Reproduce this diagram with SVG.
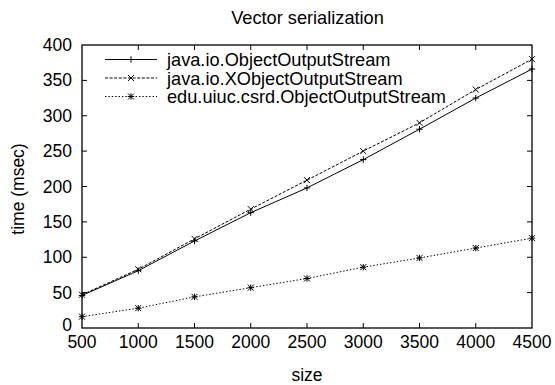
<svg xmlns="http://www.w3.org/2000/svg" xmlns:xlink="http://www.w3.org/1999/xlink" width="555" height="385" viewBox="0 0 555 385">
  <style>
    text { font-family: "Liberation Sans", Arial, sans-serif; font-size: 17.5px; fill: #000; }
    .title { font-size: 18.2px; text-anchor: middle; }
    .key { font-size: 18.2px; }
    .frame { fill: none; stroke: #000; stroke-width: 1.3; }
    .tick { stroke: #000; stroke-width: 1; }
    .ylab { text-anchor: end; }
    .xlab { text-anchor: middle; }
    .s1 { fill: none; stroke: #000; stroke-width: 1; }
    .s2 { fill: none; stroke: #000; stroke-width: 1; stroke-dasharray: 3 1.6; }
    .s3 { fill: none; stroke: #000; stroke-width: 1; stroke-dasharray: 1.4 2; }
    .pt { fill: none; stroke: #000; stroke-width: 1; }
  </style>
  <defs>
    <path id="mk-plus" class="pt" d="M-3.2,0H3.2M0,-3.2V3.2"/>
    <path id="mk-cross" class="pt" d="M-3,-3L3,3M-3,3L3,-3"/>
    <path id="mk-star" class="pt" d="M-3.2,0H3.2M0,-3.2V3.2M-3,-3L3,3M-3,3L3,-3"/>
  </defs>

  <rect width="555" height="385" fill="#fff"/>

  <!-- title -->
  <text x="307.5" y="24" class="title">Vector serialization</text>

  <!-- plot frame and ticks -->
  <g id="axes">
    <rect class="frame" x="82" y="45" width="450" height="283"/>
    <path class="tick" d="M82,292.6h5M82,257.25h5M82,221.9h5M82,186.5h5M82,151.1h5M82,115.75h5M82,80.4h5
      M532,292.6h-5M532,257.25h-5M532,221.9h-5M532,186.5h-5M532,151.1h-5M532,115.75h-5M532,80.4h-5
      M138.25,328v-5M194.5,328v-5M250.75,328v-5M307,328v-5M363.25,328v-5M419.5,328v-5M475.75,328v-5
      M138.25,45v5M194.5,45v5M250.75,45v5M307,45v5M363.25,45v5M419.5,45v5M475.75,45v5"/>
  </g>

  <!-- y tick labels -->
  <g id="y-labels">
    <text class="ylab" x="72" y="331">0</text>
    <text class="ylab" x="72" y="298.6">50</text>
    <text class="ylab" x="72" y="263.25">100</text>
    <text class="ylab" x="72" y="227.9">150</text>
    <text class="ylab" x="72" y="192.5">200</text>
    <text class="ylab" x="72" y="157.1">250</text>
    <text class="ylab" x="72" y="121.75">300</text>
    <text class="ylab" x="72" y="86.4">350</text>
    <text class="ylab" x="72" y="51">400</text>
  </g>

  <!-- x tick labels -->
  <g id="x-labels">
    <text class="xlab" x="82" y="348">500</text>
    <text class="xlab" x="138.25" y="348">1000</text>
    <text class="xlab" x="194.5" y="348">1500</text>
    <text class="xlab" x="250.75" y="348">2000</text>
    <text class="xlab" x="307" y="348">2500</text>
    <text class="xlab" x="363.25" y="348">3000</text>
    <text class="xlab" x="419.5" y="348">3500</text>
    <text class="xlab" x="475.75" y="348">4000</text>
    <text class="xlab" x="532" y="348">4500</text>
  </g>

  <!-- axis titles -->
  <text class="xlab" x="307" y="381">size</text>
  <text class="xlab" transform="translate(24,189) rotate(-90)">time (msec)</text>

  <!-- data series -->
  <g id="connectors">
    <polyline class="s1" points="82,295.45 138.25,270.69 194.5,240.98 250.75,212.68 307,187.91 363.25,159.62 419.5,129.19 475.75,98.06 532,69.06"/>
    <polyline class="s2" points="82,294.75 138.25,269.28 194.5,238.86 250.75,209.14 307,180.13 363.25,151.13 419.5,122.83 475.75,89.57 532,59.15"/>
    <polyline class="s3" points="82,316.68 138.25,308.19 194.5,296.87 250.75,287.67 307,278.48 363.25,267.16 419.5,257.96 475.75,248.05 532,238.15"/>
  </g>

  <g id="series-objectoutputstream">
    <use xlink:href="#mk-plus" x="82" y="295.45"/>
    <use xlink:href="#mk-plus" x="138.25" y="270.69"/>
    <use xlink:href="#mk-plus" x="194.5" y="240.98"/>
    <use xlink:href="#mk-plus" x="250.75" y="212.68"/>
    <use xlink:href="#mk-plus" x="307" y="187.91"/>
    <use xlink:href="#mk-plus" x="363.25" y="159.62"/>
    <use xlink:href="#mk-plus" x="419.5" y="129.19"/>
    <use xlink:href="#mk-plus" x="475.75" y="98.06"/>
    <use xlink:href="#mk-plus" x="532" y="69.06"/>
  </g>
  <g id="series-xobjectoutputstream">
    <use xlink:href="#mk-cross" x="82" y="294.75"/>
    <use xlink:href="#mk-cross" x="138.25" y="269.28"/>
    <use xlink:href="#mk-cross" x="194.5" y="238.86"/>
    <use xlink:href="#mk-cross" x="250.75" y="209.14"/>
    <use xlink:href="#mk-cross" x="307" y="180.13"/>
    <use xlink:href="#mk-cross" x="363.25" y="151.13"/>
    <use xlink:href="#mk-cross" x="419.5" y="122.83"/>
    <use xlink:href="#mk-cross" x="475.75" y="89.57"/>
    <use xlink:href="#mk-cross" x="532" y="59.15"/>
  </g>
  <g id="series-csrd-objectoutputstream">
    <use xlink:href="#mk-star" x="82" y="316.68"/>
    <use xlink:href="#mk-star" x="138.25" y="308.19"/>
    <use xlink:href="#mk-star" x="194.5" y="296.87"/>
    <use xlink:href="#mk-star" x="250.75" y="287.67"/>
    <use xlink:href="#mk-star" x="307" y="278.48"/>
    <use xlink:href="#mk-star" x="363.25" y="267.16"/>
    <use xlink:href="#mk-star" x="419.5" y="257.96"/>
    <use xlink:href="#mk-star" x="475.75" y="248.05"/>
    <use xlink:href="#mk-star" x="532" y="238.15"/>
  </g>

  <!-- key -->
  <g id="legend">
    <line class="s1" x1="105" y1="59.5" x2="157" y2="59.5"/>
    <use xlink:href="#mk-plus" x="131" y="59.5"/>
    <text class="key" x="167" y="66">java.io.ObjectOutputStream</text>
    <line class="s2" x1="105" y1="78" x2="157" y2="78"/>
    <use xlink:href="#mk-cross" x="131" y="78"/>
    <text class="key" x="167" y="84.5">java.io.XObjectOutputStream</text>
    <line class="s3" x1="105" y1="96.5" x2="157" y2="96.5"/>
    <use xlink:href="#mk-star" x="131" y="96.5"/>
    <text class="key" x="167" y="103">edu.uiuc.csrd.ObjectOutputStream</text>
  </g>
</svg>
